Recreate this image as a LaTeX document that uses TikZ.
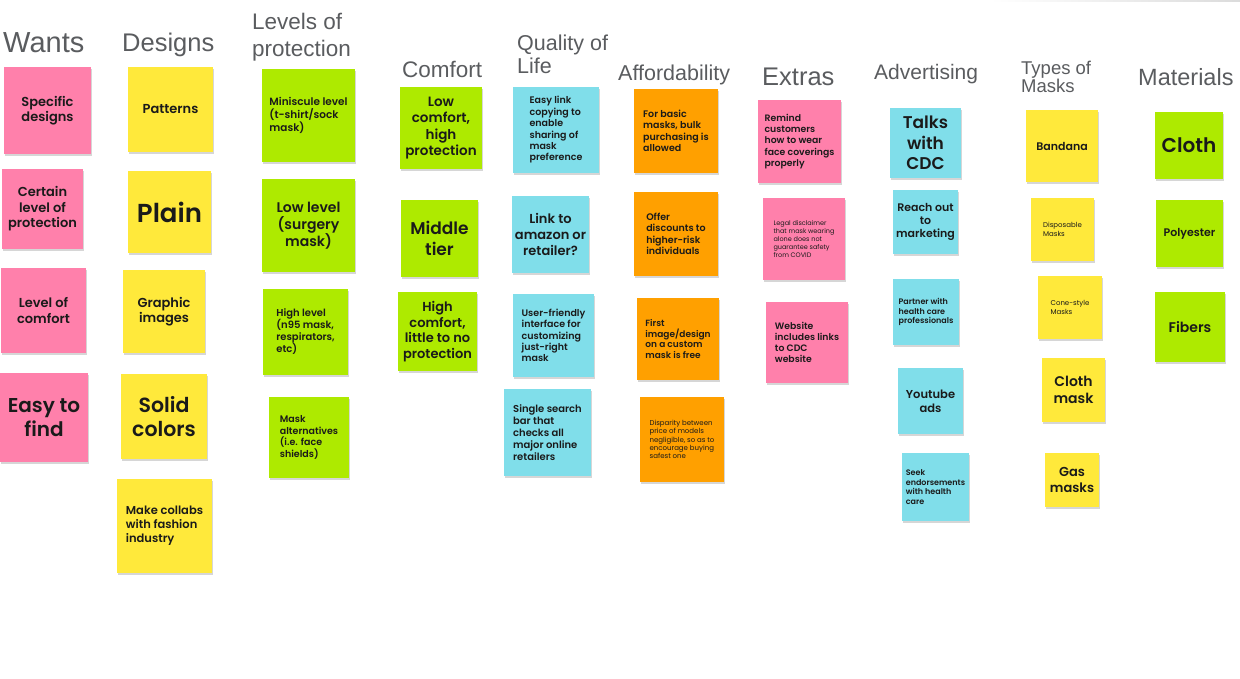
\documentclass[tikz,border=0pt]{standalone}
\usepackage{fontspec}
\setmainfont{Liberation Sans}
\newfontfamily\notefont{Poppins}[BoldFont={Poppins SemiBold}]
\newfontfamily\headfont{Liberation Sans}
\usetikzlibrary{positioning}

\definecolor{notepink}{HTML}{FF80AB}
\definecolor{noteyellow}{HTML}{FFE93B}
\definecolor{notegreen}{HTML}{AEEA00}
\definecolor{notecyan}{HTML}{80DEEA}
\definecolor{noteorange}{HTML}{FFA000}
\definecolor{headgray}{HTML}{5A5C5F}
\definecolor{inkblack}{HTML}{1A1A1A}

% sticky-note font at a given size (bold / regular)
\newcommand\nf[1]{\notefont\bfseries\fontsize{#1}{\fpeval{#1*1.2}}\selectfont}
\newcommand\nr[1]{\notefont\fontsize{#1}{\fpeval{#1*1.2}}\selectfont}
\newcommand\hf[1]{\headfont\fontsize{#1}{\fpeval{#1*1.2}}\selectfont}

\tikzset{
  note/.style={rectangle, inner sep=0pt, text=inkblack, align=center},
  noteshadow/.style={fill=black!16},
  heading/.style={anchor=base west, inner sep=0pt, text=headgray},
}

% \stickynote{name}{colour}{x1}{y1}{x2}{y2}{options}{text}
\newcommand\stickynote[8]{%
  \pgfmathsetmacro\notew{#5-#3}\pgfmathsetmacro\noteh{#6-#4}%
  \pgfmathsetmacro\notex{(#3+#5)/2}\pgfmathsetmacro\notey{(#4+#6)/2}%
  \fill[noteshadow] (#3+0.6,#4+2) rectangle (#5+0.6,#6+2);
  \node[note, fill=#2, minimum width=\notew pt, minimum height=\noteh pt, #7]
    (#1) at (\notex,\notey) {#8};
}

\begin{document}
\begin{tikzpicture}[x=1pt,y=-1pt]
\useasboundingbox[fill=white] (0,0) rectangle (1240,679);
\shade[left color=white, right color=black!14] (990,0) rectangle (1240,1.6);

% column headings
\node[heading, font=\hf{29}]   (hWants)   at (3,53)    {Wants};
\node[heading, font=\hf{25.5}] (hDesigns) at (122,52)  {Designs};
\node[heading, font=\hf{22.5}] (hLevelsA) at (252,30)  {Levels of};
\node[heading, font=\hf{22.5}] (hLevelsB) at (252,57)  {protection};
\node[heading, font=\hf{22.5}] (hComfort) at (402,78)  {Comfort};
\node[heading, font=\hf{21.5}] (hQualA)   at (517,51)  {Quality of};
\node[heading, font=\hf{21.5}] (hQualB)   at (517,74)  {Life};
\node[heading, font=\hf{21.5}] (hAfford)  at (618,81)  {Affordability};
\node[heading, font=\hf{25.5}] (hExtras)  at (762,86)  {Extras};
\node[heading, font=\hf{21}]   (hAdvert)  at (874,80)  {Advertising};
\node[heading, font=\hf{18.5}] (hTypesA)  at (1021,75) {Types of};
\node[heading, font=\hf{18.5}] (hTypesB)  at (1021,93) {Masks};
\node[heading, font=\hf{23.5}] (hMater)   at (1138,86) {Materials};

% Wants
\stickynote{w1}{notepink}{4}{67}{91}{154}{font=\nf{13}}{Specific\\designs}
\stickynote{w2}{notepink}{2}{169}{83}{249}{font=\nf{13}}{Certain\\level of\\protection}
\stickynote{w3}{notepink}{1}{268}{86}{353}{font=\nf{13}}{Level of\\comfort}
\stickynote{w4}{notepink}{0}{373}{88}{462}{font=\nf{20}}{Easy to\\find}

% Designs
\stickynote{d1}{noteyellow}{128}{67}{213}{152}{font=\nf{13}}{Patterns}
\stickynote{d2}{noteyellow}{128}{171}{211}{253}{font=\nf{26}}{Plain}
\stickynote{d3}{noteyellow}{123}{270}{205}{353}{font=\nf{13}}{Graphic\\images}
\stickynote{d4}{noteyellow}{121}{374}{207}{459}{font=\nf{20.5}}{Solid\\colors}
\stickynote{d5}{noteyellow}{117}{479}{212}{573}{font=\nf{11.5},align=left}{Make collabs\\with fashion\\industry}

% Levels of protection
\stickynote{l1}{notegreen}{262}{69}{355}{162}{font=\nf{10.5},align=left}{Miniscule level\\(t-shirt/sock\\mask)}
\stickynote{l2}{notegreen}{262}{179}{355}{272}{font=\nf{14}}{Low level\\(surgery\\mask)}
\stickynote{l3}{notegreen}{263}{289}{348}{375}{font=\nf{10},align=left}{High level\\(n95 mask,\\respirators,\\etc)}
\stickynote{l4}{notegreen}{269}{397}{349}{478}{font=\nf{9.5},align=left}{Mask\\alternatives\\(i.e. face\\shields)}

% Comfort
\stickynote{c1}{notegreen}{400}{87}{482}{169}{font=\nf{13.5}}{Low\\comfort,\\high\\protection}
\stickynote{c2}{notegreen}{401}{200}{478}{277}{font=\nf{17}}{Middle\\tier}
\stickynote{c3}{notegreen}{398}{292}{477}{371}{font=\nf{13}}{High\\comfort,\\little to no\\protection}

% Quality of Life
\stickynote{q1}{notecyan}{513}{87}{599}{173}{font=\nf{9.5},align=left}{Easy link\\copying to\\enable\\sharing of\\mask\\preference}
\stickynote{q2}{notecyan}{512}{196}{589}{273}{font=\nf{13}}{Link to\\amazon or\\retailer?}
\stickynote{q3}{notecyan}{513}{294}{594}{377}{font=\nf{9.5},align=left}{User-friendly\\interface for\\customizing\\just-right\\mask}
\stickynote{q4}{notecyan}{504}{389}{591}{476}{font=\nf{10},align=left}{Single search\\bar that\\checks all\\major online\\retailers}

% Affordability
\stickynote{a1}{noteorange}{634}{89}{718}{173}{font=\nf{9.5},align=left}{For basic\\masks, bulk\\purchasing is\\allowed}
\stickynote{a2}{noteorange}{634}{192}{718}{276}{font=\nf{9.5},align=left}{Offer\\discounts to\\higher-risk\\individuals}
\stickynote{a3}{noteorange}{637}{298}{719}{380}{font=\nf{9},align=left}{First\\image/design\\on a custom\\mask is free}
\stickynote{a4}{noteorange}{640}{397}{724}{482}{font=\nr{7},align=left}{Disparity between\\price of models\\negligible, so as to\\encourage buying\\safest one}

% Extras
\stickynote{e1}{notepink}{758}{100}{841}{183}{font=\nf{9.3},align=left}{Remind\\customers\\how to wear\\face coverings\\properly}
\stickynote{e2}{notepink}{763}{198}{845}{280}{font=\nr{6.5},align=left}{Legal disclaimer\\that mask wearing\\alone does not\\guarantee safety\\from COVID}
\stickynote{e3}{notepink}{766}{302}{848}{383}{font=\nf{9.3},align=left}{Website\\includes links\\to CDC\\website}

% Advertising
\stickynote{v1}{notecyan}{890}{108}{961}{178}{font=\nf{17}}{Talks\\with\\CDC}
\stickynote{v2}{notecyan}{893}{190}{958}{254}{font=\nf{11}}{Reach out\\to\\marketing}
\stickynote{v3}{notecyan}{893}{279}{959}{345}{font=\nf{8},align=left}{Partner with\\health care\\professionals}
\stickynote{v4}{notecyan}{898}{368}{963}{434}{font=\nf{11.5}}{Youtube\\ads}
\stickynote{v5}{notecyan}{902}{453}{969}{521}{font=\nf{8},align=left}{Seek\\endorsements\\with health\\care}

% Types of Masks
\stickynote{t1}{noteyellow}{1026}{110}{1098}{182}{font=\nf{11}}{Bandana}
\stickynote{t2}{noteyellow}{1031}{198}{1094}{261}{font=\nr{7},align=left}{Disposable\\Masks}
\stickynote{t3}{noteyellow}{1038}{276}{1102}{339}{font=\nr{7},align=left}{Cone-style\\Masks}
\stickynote{t4}{noteyellow}{1042}{358}{1105}{422}{font=\nf{14}}{Cloth\\mask}
\stickynote{t5}{noteyellow}{1045}{453}{1099}{507}{font=\nf{13}}{Gas\\masks}

% Materials
\stickynote{m1}{notegreen}{1155}{112}{1223}{179}{font=\nf{20}}{Cloth}
\stickynote{m2}{notegreen}{1156}{200}{1223}{267}{font=\nf{11}}{Polyester}
\stickynote{m3}{notegreen}{1155}{292}{1225}{362}{font=\nf{14}}{Fibers}
\end{tikzpicture}
\end{document}
